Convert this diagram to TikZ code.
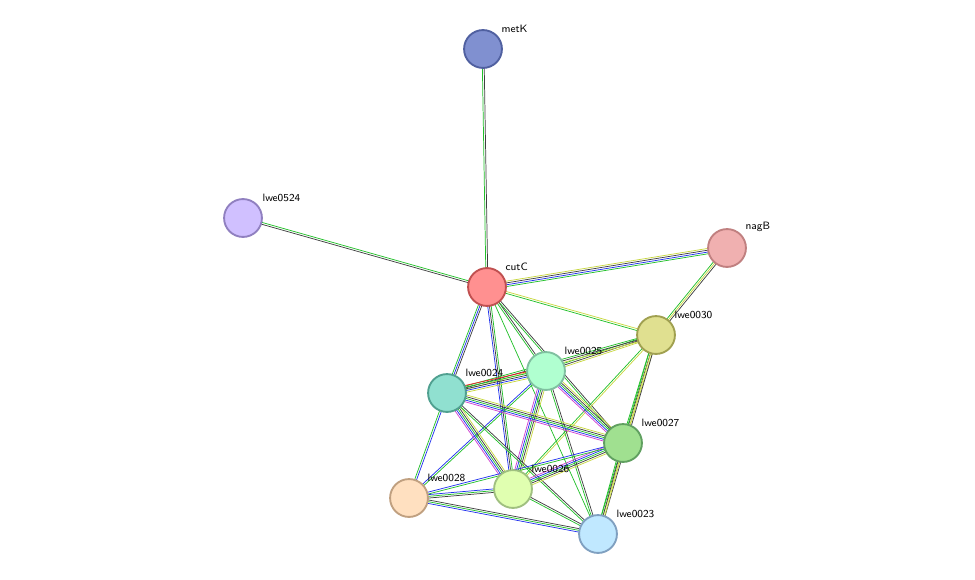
\documentclass[tikz,border=0pt]{standalone}
\usepackage{tikz}
\usetikzlibrary{calc,backgrounds}
\definecolor{sgreen}{HTML}{22C02A}
\definecolor{sblue}{HTML}{2233EE}
\definecolor{sblack}{HTML}{404040}
\definecolor{syellow}{HTML}{C8D840}
\definecolor{smag}{HTML}{D040D0}
\definecolor{sred}{HTML}{EE2222}
\newcommand\strlink[3]{%
  \foreach \c/\o in {#3} {
    \draw[\c, line width=0.55pt] ($(#1.center)!\o pt!90:(#2.center)$) -- ($(#2.center)!\o pt!-90:(#1.center)$);
  }
}
\begin{document}
\begin{tikzpicture}[
    x=0.0264cm, y=-0.0264cm,
    prot/.style={circle, draw, line width=1.4pt, minimum size=1cm, inner sep=0pt},
    lab/.style={font=\sffamily\fontsize{8}{9}\selectfont, anchor=south west, inner sep=1pt},
]
    \useasboundingbox (0,0) rectangle (975,580);
    % proteins
    \node[prot, fill={rgb,255:red,128;green,144;blue,208}, draw={rgb,255:red,80;green,96;blue,160}] (metK) at (483,49) {};
    \node[prot, fill={rgb,255:red,208;green,192;blue,255}, draw={rgb,255:red,144;green,128;blue,192}] (lwe0524) at (243,218) {};
    \node[prot, fill={rgb,255:red,240;green,176;blue,176}, draw={rgb,255:red,192;green,128;blue,128}] (nagB) at (727,248) {};
    \node[prot, fill={rgb,255:red,255;green,144;blue,144}, draw={rgb,255:red,192;green,80;blue,80}] (cutC) at (487,287) {};
    \node[prot, fill={rgb,255:red,224;green,224;blue,144}, draw={rgb,255:red,160;green,160;blue,80}] (lwe0030) at (656,335) {};
    \node[prot, fill={rgb,255:red,176;green,255;blue,208}, draw={rgb,255:red,128;green,192;blue,160}] (lwe0025) at (546,371) {};
    \node[prot, fill={rgb,255:red,144;green,224;blue,208}, draw={rgb,255:red,80;green,160;blue,144}] (lwe0024) at (447,393) {};
    \node[prot, fill={rgb,255:red,160;green,224;blue,144}, draw={rgb,255:red,96;green,160;blue,96}] (lwe0027) at (623,443) {};
    \node[prot, fill={rgb,255:red,224;green,255;blue,176}, draw={rgb,255:red,160;green,192;blue,128}] (lwe0026) at (513,489) {};
    \node[prot, fill={rgb,255:red,255;green,224;blue,192}, draw={rgb,255:red,192;green,160;blue,128}] (lwe0028) at (409,498) {};
    \node[prot, fill={rgb,255:red,192;green,232;blue,255}, draw={rgb,255:red,128;green,160;blue,192}] (lwe0023) at (598,534) {};

    % labels
    \node[lab] at (500,34) {metK};
    \node[lab] at (261,203) {lwe0524};
    \node[lab] at (744,233) {nagB};
    \node[lab] at (504,272) {cutC};
    \node[lab] at (673,320) {lwe0030};
    \node[lab] at (563,356) {lwe0025};
    \node[lab] at (464,378) {lwe0024};
    \node[lab] at (640,428) {lwe0027};
    \node[lab] at (530,474) {lwe0026};
    \node[lab] at (426,483) {lwe0028};
    \node[lab] at (615,519) {lwe0023};

    % links
    \begin{pgfonlayer}{background}
    \strlink{metK}{cutC}{sgreen/-0.7, sblack/0.7}
    \strlink{lwe0524}{cutC}{sblack/-0.7, sgreen/0.7}
    \strlink{cutC}{nagB}{sgreen/-2, sblue/-0.7, sblack/0.7, syellow/2}
    \strlink{cutC}{lwe0030}{sgreen/-0.7, syellow/0.7}
    \strlink{cutC}{lwe0024}{sgreen/-1.3, sblue/0, sblack/1.3}
    \strlink{cutC}{lwe0025}{sgreen/-0.7, sblack/0.7}
    \strlink{cutC}{lwe0026}{sblue/-1.3, sblack/0, sgreen/1.3}
    \strlink{cutC}{lwe0027}{sgreen/-0.7, sblack/0.7}
    \strlink{cutC}{lwe0023}{sgreen/0}
    \strlink{nagB}{lwe0030}{sgreen/-1.3, syellow/0, sblack/1.3}
    \strlink{lwe0030}{lwe0025}{sgreen/-1.3, sblack/0, syellow/1.3}
    \strlink{lwe0030}{lwe0024}{sgreen/-1.3, sblack/0, syellow/1.3}
    \strlink{lwe0030}{lwe0027}{sgreen/-1.3, sblack/0, syellow/1.3}
    \strlink{lwe0030}{lwe0023}{sgreen/-1.3, syellow/0, sblack/1.3}
    \strlink{lwe0030}{lwe0026}{sgreen/-0.7, syellow/0.7}
    \strlink{lwe0025}{lwe0024}{sred/-2.6, sgreen/-1.3, sblack/0, sblue/1.3, syellow/2.6}
    \strlink{lwe0025}{lwe0027}{smag/-2.6, sblue/-1.3, sgreen/0, sblack/1.3, syellow/2.6}
    \strlink{lwe0025}{lwe0026}{smag/-2.6, sblue/-1.3, sgreen/0, sblack/1.3, syellow/2.6}
    \strlink{lwe0025}{lwe0028}{sblue/-0.7, sgreen/0.7}
    \strlink{lwe0025}{lwe0023}{sgreen/-0.7, sblack/0.7}
    \strlink{lwe0024}{lwe0027}{smag/-2.6, sblue/-1.3, sgreen/0, sblack/1.3, syellow/2.6}
    \strlink{lwe0024}{lwe0026}{smag/-2.6, sblue/-1.3, sgreen/0, sblack/1.3, syellow/2.6}
    \strlink{lwe0024}{lwe0028}{sgreen/-0.7, sblue/0.7}
    \strlink{lwe0024}{lwe0023}{sgreen/-0.7, sblack/0.7}
    \strlink{lwe0027}{lwe0026}{smag/-2.6, sblue/-1.3, sgreen/0, sblack/1.3, syellow/2.6}
    \strlink{lwe0027}{lwe0023}{sgreen/-1.3, sblack/0, syellow/1.3}
    \strlink{lwe0027}{lwe0028}{sblue/-0.7, sgreen/0.7}
    \strlink{lwe0026}{lwe0028}{sblue/-1.3, sgreen/0, sblack/1.3}
    \strlink{lwe0026}{lwe0023}{sgreen/-0.7, sblack/0.7}
    \strlink{lwe0028}{lwe0023}{sblue/-1.3, sgreen/0, sblack/1.3}
    \end{pgfonlayer}
\end{tikzpicture}
\end{document}
